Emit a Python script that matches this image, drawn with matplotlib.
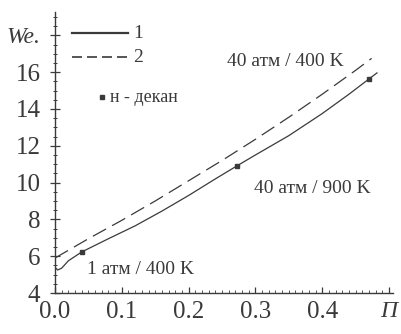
import matplotlib
matplotlib.use("Agg")
import matplotlib.pyplot as plt
from matplotlib.ticker import MultipleLocator

# data
x_solid = [0, 0.004, 0.01, 0.02, 0.04, 0.08, 0.12, 0.16, 0.2, 0.24, 0.272, 0.3, 0.35, 0.4, 0.44, 0.47, 0.482]
y_solid = [5.4, 5.25, 5.35, 5.75, 6.23, 6.95, 7.65, 8.45, 9.3, 10.2, 10.9, 11.5, 12.55, 13.75, 14.8, 15.63, 15.96]
x_dash = [0, 0.05, 0.1, 0.15, 0.2, 0.25, 0.3, 0.35, 0.4, 0.45, 0.474]
y_dash = [5.9, 6.95, 7.95, 9.0, 10.1, 11.2, 12.35, 13.55, 14.8, 16.1, 16.75]
x_decane = [0.04, 0.272, 0.47]
y_decane = [6.23, 10.9, 15.63]

xticks = [0.0, 0.1, 0.2, 0.3, 0.4, 0.5]
xticklabels = ["0.0", "0.1", "0.2", "0.3", "0.4", "П"]
yticks = [4, 6, 8, 10, 12, 14, 16, 18]
yticklabels = ["4", "6", "8", "10", "12", "14", "16", "We."]

annotations = [
    ("40 атм / 400 K", 0.258, 16.6),
    ("40 атм / 900 K", 0.298, 9.7),
    ("1 атм / 400 K", 0.048, 5.25),
]

INK = "#3a3a3a"
plt.rcParams['font.family'] = ['Liberation Serif', 'DejaVu Serif']

W, H = 401, 334
fig = plt.figure(figsize=(W / 100, H / 100), dpi=100)
ax = fig.add_axes([55 / W, 1 - 293 / H, 338 / W, 281 / H])

ax.plot(x_solid, y_solid, color=INK, lw=0.9, solid_joinstyle='round')
ax.plot(x_dash, y_dash, color=INK, lw=0.9, dashes=(12, 5.5))
ax.plot(x_decane, y_decane, ls='none', marker='s', ms=3, color=INK)

ax.set_xlim(0, 0.506)
ax.set_ylim(4, 19.27)

for side in ('top', 'right'):
    ax.spines[side].set_visible(False)
for side in ('left', 'bottom'):
    ax.spines[side].set_color(INK)
    ax.spines[side].set_linewidth(1.0)

ax.set_xticks(xticks)
ax.set_xticklabels(xticklabels)
ax.set_yticks(yticks)
ax.set_yticklabels(yticklabels)
ax.xaxis.set_minor_locator(MultipleLocator(0.01))
ax.yaxis.set_minor_locator(MultipleLocator(0.5))

ax.tick_params(axis='both', which='major', labelsize=18, colors=INK, width=0.9)
ax.tick_params(axis='y', which='major', direction='inout', length=7, pad=7)
ax.tick_params(axis='y', which='minor', direction='inout', length=3, width=0.7, colors=INK)
ax.tick_params(axis='x', which='major', direction='in', length=4, pad=6)
ax.tick_params(axis='x', which='minor', direction='in', length=2, width=0.6, colors=INK)

for lbl in ax.get_xticklabels():
    if lbl.get_text() == "П":
        lbl.set_fontstyle('italic')
        lbl.set_fontsize(17)
for lbl in ax.get_yticklabels():
    if lbl.get_text() == "We.":
        lbl.set_fontstyle('italic')
        lbl.set_fontsize(17)

for txt, tx, ty in annotations:
    ax.text(tx, ty, txt, fontsize=14, color=INK, ha='left', va='center')

# legend drawn in figure pixel coordinates
def fx(px):
    return px / W

def fy(py):
    return 1 - py / H

fig.add_artist(plt.Line2D([fx(72), fx(128)], [fy(33), fy(33)], color=INK, lw=1.6))
fig.add_artist(plt.Line2D([fx(72), fx(130)], [fy(57), fy(57)], color=INK, lw=1.2, dashes=(6, 3)))
fig.text(fx(133), fy(33), "1", fontsize=14, color=INK, va='center', ha='left')
fig.text(fx(133), fy(57), "2", fontsize=14, color=INK, va='center', ha='left')
fig.add_artist(plt.Line2D([fx(102)], [fy(97)], ls='none', marker='s', ms=3, color=INK))
fig.text(fx(110), fy(97), "н - декан", fontsize=13, color=INK, va='center', ha='left')

fig.savefig("out.png", dpi=100, facecolor='white')
